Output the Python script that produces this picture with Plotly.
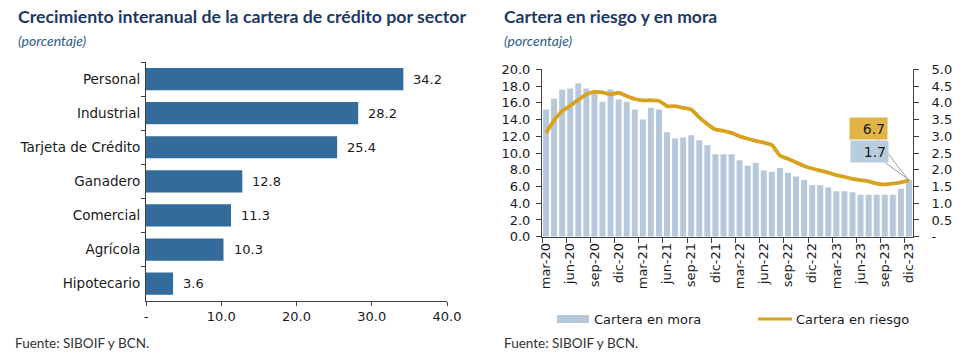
import plotly.graph_objects as go

# ---------- Left chart data ----------
sectores = ["Personal", "Industrial", "Tarjeta de Crédito", "Ganadero", "Comercial", "Agrícola", "Hipotecario"]
crecimiento = [34.2, 28.2, 25.4, 12.8, 11.3, 10.3, 3.6]

# ---------- Right chart data ----------
meses_nombres = ["mar", "abr", "may", "jun", "jul", "ago", "sep", "oct", "nov", "dic", "ene", "feb"]
meses = []
for k in range(46):
    m = meses_nombres[k % 12]
    yr = 20 + (k + 2) // 12
    meses.append(f"{m}-{yr}")

cartera_mora = [3.80, 4.12, 4.40, 4.43, 4.58, 4.43, 4.30, 4.03, 4.40, 4.10,
                4.03, 3.80, 3.50, 3.85, 3.80, 3.12, 2.93, 2.96, 3.03, 2.88,
                2.73, 2.46, 2.46, 2.46, 2.28, 2.12, 2.20, 1.98, 1.94, 2.05,
                1.91, 1.80, 1.69, 1.54, 1.54, 1.47, 1.36, 1.36, 1.33, 1.25,
                1.25, 1.25, 1.25, 1.25, 1.43, 1.70]
cartera_riesgo = [12.4, 13.9, 15.0, 15.65, 16.35, 17.0, 17.3, 17.25, 17.0, 17.2,
                  16.8, 16.45, 16.3, 16.3, 16.25, 15.6, 15.6, 15.4, 15.2, 14.25,
                  13.45, 12.8, 12.65, 12.4, 12.0, 11.7, 11.45, 11.25, 10.95, 9.7,
                  9.3, 8.9, 8.45, 8.15, 7.9, 7.65, 7.35, 7.15, 6.9, 6.75,
                  6.6, 6.35, 6.25, 6.35, 6.5, 6.7]

left_ticks = [0, 10, 20, 30, 40]
left_ticktext = ["-", "10.0", "20.0", "30.0", "40.0"]
y2_ticks = [i * 2 for i in range(11)]
y3_ticks = [i * 0.5 for i in range(11)]
y3_ticktext = ["-"] + [f"{v:.1f}" for v in y3_ticks[1:]]

W, H = 969, 353
NAVY = "#1B3966"
BAR_L = "#336C9B"
BAR_R = "#B5C9DB"
GOLD = "#D8A21E"
AX = "#404040"
TXT = "#1a1a1a"
NUMFONT = "DejaVu Sans"
TFONT = "Lato"


def px(x):
    return x / W


def py(y):
    return 1 - y / H


fig = go.Figure()

fig.add_trace(go.Bar(
    x=crecimiento, y=sectores, orientation="h", marker=dict(color=BAR_L, line=dict(width=0)),
    width=0.65, xaxis="x", yaxis="y", showlegend=False, hoverinfo="skip"))

fig.add_trace(go.Bar(
    x=list(range(len(meses))), y=cartera_mora, marker=dict(color=BAR_R, line=dict(width=0)),
    width=0.74, xaxis="x2", yaxis="y3", name="Cartera en mora", showlegend=False, hoverinfo="skip"))

fig.add_trace(go.Scatter(
    x=list(range(len(meses))), y=cartera_riesgo, mode="lines",
    line=dict(color=GOLD, width=3.8, shape="spline", smoothing=0.6),
    xaxis="x2", yaxis="y2", name="Cartera en riesgo", showlegend=False, hoverinfo="skip"))

annotations = []
# data labels left
for s, v in zip(sectores, crecimiento):
    annotations.append(dict(x=v, y=s, xref="x", yref="y", text=f"{v:.1f}", showarrow=False,
                            xanchor="left", yanchor="middle", xshift=8,
                            font=dict(family=NUMFONT, size=13, color=TXT)))

# end labels right
last = len(meses) - 1
annotations.append(dict(x=last, y=cartera_riesgo[-1], xref="x2", yref="y2",
                        text=f"{cartera_riesgo[-1]:.1f}", showarrow=True, arrowhead=0, arrowwidth=1,
                        arrowcolor="#9a9a9a", ax=-40, ay=-52, bgcolor="#E2B443",
                        font=dict(family=NUMFONT, size=14, color=TXT), width=33, height=17,
                        align="right", borderpad=2, standoff=0))
annotations.append(dict(x=last, y=cartera_mora[-1], xref="x2", yref="y3",
                        text=f"{cartera_mora[-1]:.1f}", showarrow=True, arrowhead=0, arrowwidth=1,
                        arrowcolor="#9a9a9a", ax=-39, ay=-28, bgcolor="#B8CCDE",
                        font=dict(family=NUMFONT, size=14, color=TXT), width=33, height=17,
                        align="right", borderpad=2, standoff=0))

# titles
annotations += [
    dict(x=px(16), y=py(17), xref="paper", yref="paper", xanchor="left", yanchor="middle",
         text="<b>Crecimiento interanual de la cartera de crédito por sector</b>", showarrow=False,
         font=dict(family=TFONT, size=17.7, color=NAVY)),
    dict(x=px(16), y=py(41), xref="paper", yref="paper", xanchor="left", yanchor="middle",
         text="<i>(porcentaje)</i>", showarrow=False, font=dict(family=TFONT, size=14, color="#2E5C8A")),
    dict(x=px(502), y=py(17), xref="paper", yref="paper", xanchor="left", yanchor="middle",
         text="<b>Cartera en riesgo y en mora</b>", showarrow=False,
         font=dict(family=TFONT, size=17.5, color=NAVY)),
    dict(x=px(502), y=py(41), xref="paper", yref="paper", xanchor="left", yanchor="middle",
         text="<i>(porcentaje)</i>", showarrow=False, font=dict(family=TFONT, size=14, color="#2E5C8A")),
    dict(x=px(13), y=py(343), xref="paper", yref="paper", xanchor="left", yanchor="middle",
         text="Fuente: SIBOIF y BCN.", showarrow=False, font=dict(family=TFONT, size=13.5, color="#333333")),
    dict(x=px(502), y=py(343), xref="paper", yref="paper", xanchor="left", yanchor="middle",
         text="Fuente: SIBOIF y BCN.", showarrow=False, font=dict(family=TFONT, size=13.5, color="#333333")),
    # legend texts
    dict(x=px(592), y=py(319), xref="paper", yref="paper", xanchor="left", yanchor="middle",
         text="Cartera en mora", showarrow=False, font=dict(family=NUMFONT, size=13, color=TXT)),
    dict(x=px(794), y=py(319), xref="paper", yref="paper", xanchor="left", yanchor="middle",
         text="Cartera en riesgo", showarrow=False, font=dict(family=NUMFONT, size=13, color=TXT)),
]

shapes = [
    dict(type="rect", xref="paper", yref="paper", x0=px(557), x1=px(589), y0=py(323), y1=py(315),
         fillcolor=BAR_R, line=dict(width=0)),
    dict(type="line", xref="paper", yref="paper", x0=px(758), x1=px(792), y0=py(319), y1=py(319),
         line=dict(color=GOLD, width=3)),
]

fig.update_layout(
    width=W, height=H, margin=dict(l=0, r=0, t=0, b=0, autoexpand=False),
    paper_bgcolor="white", plot_bgcolor="white",
    showlegend=False,
    annotations=annotations, shapes=shapes,
    xaxis=dict(domain=[px(146), px(447)], range=[0, 40], tickvals=left_ticks, ticktext=left_ticktext,
               showgrid=False, zeroline=False, showline=True, linecolor=AX, linewidth=1,
               ticks="outside", ticklen=4, tickcolor=AX, automargin=False,
               tickfont=dict(family=NUMFONT, size=13, color=TXT), anchor="y", fixedrange=True),
    yaxis=dict(domain=[py(300.7), py(62)], type="category", autorange="reversed",
               showgrid=False, zeroline=False, showline=True, linecolor=AX, linewidth=1,
               ticks="outside", ticklen=4, tickcolor=AX, tickson="boundaries", automargin=False,
               tickfont=dict(family=NUMFONT, size=13.5, color=TXT), anchor="x", ticklabelstandoff=2),
    xaxis2=dict(domain=[px(542), px(913)], range=[-0.5, 45.5], anchor="y3",
                tickvals=list(range(0, 46, 3)), ticktext=[meses[i] for i in range(0, 46, 3)],
                tickangle=-90, ticks="", showgrid=False, zeroline=False, showline=True,
                linecolor=AX, linewidth=1, automargin=False,
                minor=dict(tickvals=[i - 0.5 for i in range(0, 46, 3)], ticks="outside", ticklen=5,
                           tickcolor=AX, showgrid=False),
                tickfont=dict(family=NUMFONT, size=13, color=TXT)),
    yaxis3=dict(domain=[py(236.7), py(69.3)], range=[0, 5], side="right", anchor="x2",
                tickvals=y3_ticks, ticktext=y3_ticktext, showgrid=False, zeroline=False,
                showline=True, linecolor=AX, linewidth=1, ticks="outside", ticklen=5, tickcolor=AX,
                automargin=False,
                tickfont=dict(family=NUMFONT, size=13, color=TXT), ticklabelstandoff=10),
    yaxis2=dict(range=[0, 20], overlaying="y3", side="left", anchor="x2",
                tickvals=y2_ticks, tickformat=".1f", showgrid=False, zeroline=False,
                showline=True, linecolor=AX, linewidth=1, ticks="outside", ticklen=5, tickcolor=AX,
                automargin=False,
                tickfont=dict(family=NUMFONT, size=13, color=TXT), ticklabelstandoff=3),
)

fig.write_html("out.html")
